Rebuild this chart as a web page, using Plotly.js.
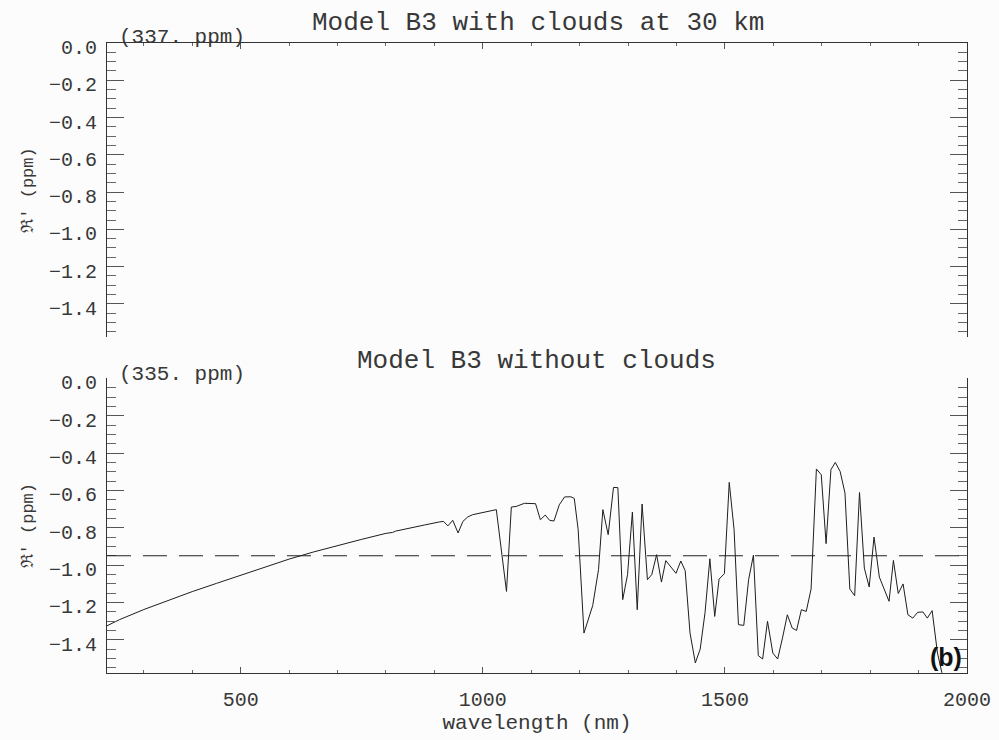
<!DOCTYPE html>
<html>
<head>
<meta charset="utf-8">
<script src="https://cdn.plot.ly/plotly-3.0.1.min.js"></script>
<style>
html, body { margin: 0; padding: 0; background: #fcfcfc; }
#chart { width: 999px; height: 740px; }
</style>
</head>
<body>
<div id="chart"></div>
<script>
// ---- data ----
const wavelength = [224, 250, 300, 350, 400, 450, 500, 550, 600, 650, 700, 750, 800, 814, 820, 850, 880, 910, 919,
  928, 938, 949, 959, 969, 979, 1028, 1049, 1059, 1069, 1086, 1109, 1119, 1129, 1138, 1147, 1158, 1169, 1182, 1189,
  1197, 1209, 1227, 1239, 1248, 1259, 1270, 1279, 1289, 1299, 1309, 1319, 1329, 1340, 1349, 1359, 1369, 1378, 1399,
  1409, 1418, 1428, 1439, 1449, 1459, 1469, 1479, 1488, 1499, 1509, 1519, 1528, 1539, 1549, 1559, 1569, 1578, 1588,
  1599, 1609, 1619, 1629, 1639, 1648, 1658, 1668, 1678, 1689, 1699, 1709, 1719, 1728, 1738, 1748, 1758, 1768, 1778,
  1788, 1798, 1808, 1819, 1829, 1839, 1848, 1858, 1868, 1878, 1888, 1898, 1909, 1918, 1928, 1939, 1948, 1958, 1966];
const reflNoClouds = [-1.325, -1.292, -1.238, -1.188, -1.142, -1.098, -1.055, -1.010, -0.968, -0.930, -0.895, -0.862, -0.830, -0.825, -0.818, -0.800, -0.785, -0.769, -0.766,
  -0.790, -0.760, -0.828, -0.766, -0.742, -0.730, -0.703, -1.141, -0.689, -0.686, -0.669, -0.671, -0.757, -0.732, -0.760, -0.764, -0.677, -0.635, -0.634, -0.643,
  -0.810, -1.364, -1.217, -1.025, -0.703, -0.837, -0.584, -0.585, -1.185, -1.051, -0.716, -1.239, -0.673, -1.078, -1.051, -0.944, -1.091, -0.976, -1.044,
  -0.978, -1.030, -1.364, -1.524, -1.450, -1.255, -0.966, -1.275, -1.075, -1.046, -0.557, -0.810, -1.319, -1.323, -1.078, -0.946, -1.485, -1.503, -1.301,
  -1.471, -1.503, -1.390, -1.266, -1.337, -1.350, -1.239, -1.248, -1.128, -0.485, -0.516, -0.885, -0.489, -0.450, -0.498, -0.614, -1.128, -1.164, -0.611,
  -1.016, -1.117, -0.850, -1.064, -1.132, -1.194, -0.975, -1.152, -1.101, -1.266, -1.284, -1.253, -1.251, -1.284, -1.244, -1.471, -1.575, -1.640, -1.580];
const wavelengthClouds = [];
const reflClouds = [];
const meanLevel = -0.95;
const panelTitles = ["Model B3 with clouds at 30 km", "Model B3 without clouds"];
const panelNotes = ["(337. ppm)", "(335. ppm)"];
const xTickVals = [500, 1000, 1500, 2000];
const yTickVals = [0.0, -0.2, -0.4, -0.6, -0.8, -1.0, -1.2, -1.4];
const xRange = [224, 2000];
const yRange = [-1.578, 0];

const MONO = '"Liberation Mono", "DejaVu Sans Mono", monospace';
const ink = '#383838';
const tickFont = {family: MONO, size: 20, color: ink};

function yAxis(domain) {
  return {
    domain: domain, range: yRange, tickvals: yTickVals, tickformat: '.1f',
    ticks: 'inside', ticklen: 17, tickwidth: 1, tickcolor: '#555',
    minor: {dtick: 0.05, tick0: 0, ticks: 'inside', ticklen: 9, tickcolor: '#666', tickwidth: 1},
    showline: true, linecolor: '#333', linewidth: 1, mirror: 'ticks',
    showgrid: false, zeroline: false, tickfont: tickFont, ticklabelstandoff: 5, ticklabelshift: 4,
    title: {text: 'ℜ′ (ppm)', font: {family: MONO, size: 17, color: ink}, standoff: 11}
  };
}

const traces = [
  {x: wavelength, y: reflNoClouds, type: 'scatter', mode: 'lines', xaxis: 'x', yaxis: 'y',
   line: {color: '#1e1e1e', width: 1}, hoverinfo: 'skip', showlegend: false},
  {x: wavelengthClouds, y: reflClouds, type: 'scatter', mode: 'lines', xaxis: 'x2', yaxis: 'y2',
   line: {color: '#1e1e1e', width: 1}, showlegend: false}
];

const layout = {
  width: 999, height: 740,
  margin: {l: 107, r: 32, t: 43, b: 67},
  paper_bgcolor: '#fcfcfc', plot_bgcolor: '#fcfcfc',
  showlegend: false,
  xaxis: {
    domain: [0, 1], anchor: 'y', range: xRange, tickvals: xTickVals,
    ticks: 'inside', ticklen: 6, tickcolor: '#555',
    minor: {dtick: 100, tick0: 0, ticks: 'inside', ticklen: 3, tickcolor: '#666'},
    showline: true, linecolor: '#333', linewidth: 1, mirror: false,
    showgrid: false, zeroline: false, tickfont: tickFont, ticklabelstandoff: 8,
    title: {text: 'wavelength (nm)', font: {family: MONO, size: 21, color: ink}, standoff: 3}
  },
  xaxis2: {
    domain: [0, 1], anchor: 'y2', side: 'top', matches: 'x', range: xRange, tickvals: xTickVals,
    ticks: 'inside', ticklen: 6, tickcolor: '#555',
    minor: {dtick: 100, tick0: 0, ticks: 'inside', ticklen: 3, tickcolor: '#666'},
    showline: true, linecolor: '#333', linewidth: 1, mirror: false,
    showgrid: false, zeroline: false, showticklabels: false
  },
  yaxis: yAxis([0, 0.4676]),
  yaxis2: yAxis([0.5333, 1]),
  shapes: [
    {type: 'line', xref: 'paper', x0: 0, x1: 1, yref: 'y', y0: meanLevel, y1: meanLevel,
     line: {color: '#222', width: 1, dash: '24px,12px'}}
  ],
  annotations: [
    {text: panelTitles[0], xref: 'paper', yref: 'paper', x: 0.501, y: 1.031, xanchor: 'center', yanchor: 'middle',
     showarrow: false, font: {family: MONO, size: 26, color: ink}},
    {text: panelTitles[1], xref: 'paper', yref: 'paper', x: 0.499, y: 0.495, xanchor: 'center', yanchor: 'middle',
     showarrow: false, font: {family: MONO, size: 26, color: ink}},
    {text: panelNotes[0], xref: 'paper', yref: 'paper', x: 0.012, y: 1.008, xanchor: 'left', yanchor: 'middle',
     showarrow: false, font: {family: MONO, size: 21, color: ink}},
    {text: panelNotes[1], xref: 'paper', yref: 'paper', x: 0.012, y: 0.4735, xanchor: 'left', yanchor: 'middle',
     showarrow: false, font: {family: MONO, size: 21, color: ink}},
    {text: '<b>(b)</b>', xref: 'paper', yref: 'paper', x: 0.9756, y: 0.0259, xanchor: 'center', yanchor: 'middle',
     showarrow: false, font: {family: '"Liberation Sans", Arial, sans-serif', size: 25, color: '#111'}}
  ]
};

Plotly.newPlot('chart', traces, layout, {displayModeBar: false, staticPlot: true});
</script>
</body>
</html>
